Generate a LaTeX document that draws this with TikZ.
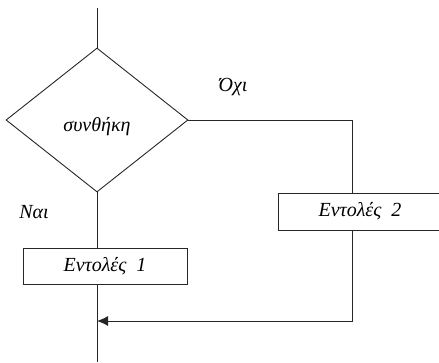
\documentclass[tikz,border=0pt]{standalone}
\usepackage{fontspec}
\setmainfont{Liberation Serif}
\usepackage{tikz}
\usetikzlibrary{shapes.geometric,arrows.meta}
\tikzset{%
  every flowline/.style={
    line width=0.9pt,
    draw=black!85
  },
  flow text/.style={
    font=\fontsize{20}{24}\selectfont\itshape
  },
  test box/.style={
    diamond,
    draw,
    every flowline,
    inner sep=0pt,
    minimum width=182pt,
    minimum height=144pt
  },
  command box/.style={
    rectangle,
    draw,
    every flowline,
    flow text,
    minimum width=164pt,
    minimum height=36pt
  },
}

\begin{document}
\begin{tikzpicture}[x=1pt, y=-1pt, >={Latex[length=11pt,width=10pt]}]

\useasboundingbox (0,0) rectangle (439,363);

\node [test box, label={[flow text, yshift=-6.5pt]center:συνθήκη}] (cond) at (97,120) {};
\node [command box] (cmd-1) at (105,266) {Εντολές~~1};
\node [command box, minimum height=37pt] (cmd-2) at (360,211.5) {Εντολές~~2};

\coordinate (start) at (97,8);
\coordinate (end) at (97,362);
\coordinate (turn) at (352,120);
\coordinate (join) at (97,321);

\node [flow text] (no) at (233,87) {Όχι};
\node [flow text] (yes) at (34,212) {Ναι};

\draw [every flowline] (start) -- (cond.north);
\draw [every flowline] (cond.south) -- (cond.south |- cmd-1.north);
\draw [every flowline] (cond.south |- cmd-1.south) -- (end);
\draw [every flowline] (cond.east) -- (turn) -- (turn |- cmd-2.north);
\draw [every flowline, ->] (turn |- cmd-2.south) |- (join);

\end{tikzpicture}
\end{document}
